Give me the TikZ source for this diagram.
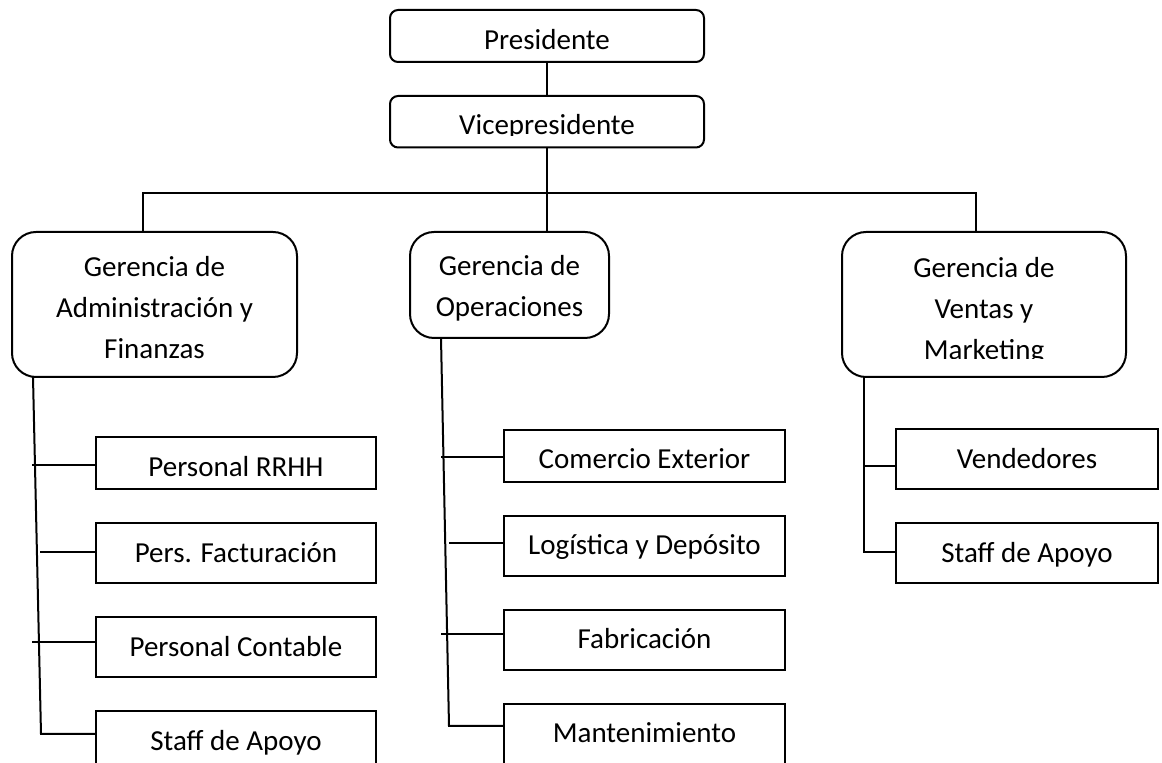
\documentclass[tikz,border=0pt]{standalone}
\usepackage{fontspec}
\setmainfont{Carlito}
\usetikzlibrary{positioning}

\tikzset{
  head/.style={draw, line width=1pt, rounded corners=4pt, minimum width=157pt, inner ysep=0pt},
  gerencia/.style={draw, line width=1pt, rounded corners=12pt},
  puesto/.style={draw, line width=1pt, inner ysep=0pt, text height=19.5pt, text depth=10.5pt},
  corto/.style={text depth=6.5pt},
  rotulo/.style={align=center},
  enlace/.style={line width=1pt},
}

\begin{document}
\begin{tikzpicture}[x=0.5pt, y=-0.5pt, node distance=16pt,
  every node/.style={font=\fontsize{14.5}{20.5}\selectfont}]
\useasboundingbox (0,0) rectangle (1162,763);

% direccion
\node[head, text height=20pt, text depth=6pt](pres) at (547,36){Presidente};
\node[head, text height=19pt, text depth=6.75pt](vice)[below = of pres]{};
\begin{scope}
  \clip (vice.north west) rectangle ([yshift=6.5pt]vice.south east);
  \node[anchor=base](vicetxt) at ([yshift=6.75pt]vice.south){Vicepresidente};
\end{scope}

% gerencias
\node[gerencia, minimum width=142.5pt, minimum height=72.5pt](adm) at (154.5,304.5){};
\node[gerencia, minimum width=99.5pt, minimum height=53pt](ops) at (509.5,285){};
\node[gerencia, minimum width=142pt, minimum height=72.5pt](vent) at (984,304.5){};
\node[rotulo](admtxt) at ([yshift=-1.75pt]adm.center){Gerencia de\\Administración y\\Finanzas};
\node[rotulo](opstxt) at ([yshift=-1.75pt]ops.center){Gerencia de\\Operaciones};
\begin{scope}
  \clip (vent.north west) rectangle ([yshift=9.5pt]vent.south east);
  \node[rotulo](venttxt) at ([yshift=-3pt]vent.center){Gerencia de\\Ventas y\\Marketing};
\end{scope}

% administracion y finanzas
\node[puesto, corto, minimum width=140pt](rrhh) at (236,463.5){Personal RRHH};
\node[puesto, minimum width=140pt](fact)[below = of rrhh]{Pers. Facturación};
\node[puesto, minimum width=140pt](cont)[below = of fact]{Personal Contable};
\node[puesto, minimum width=140pt](stfA)[below = of cont]{Staff de Apoyo};

% operaciones
\node[puesto, corto, minimum width=140.5pt](com) at (644.5,456){Comercio Exterior};
\node[puesto, minimum width=140.5pt](log)[below = of com]{Logística y Depósito};
\node[puesto, minimum width=140.5pt](fab)[below = of log]{Fabricación};
\node[puesto, minimum width=140.5pt](mant)[below = of fab]{Mantenimiento};

% ventas y marketing
\node[puesto, minimum width=131pt](vend) at (1027,459.5){Vendedores};
\node[puesto, minimum width=131pt](stfV)[below = of vend]{Staff de Apoyo};

\coordinate (busL) at (143,193);
\coordinate (busR) at (976,193);
\coordinate (admTop) at (33,377);
\coordinate (admEnd) at (41,734);
\coordinate (a1) at (32,465);
\coordinate (a2) at (40,552);
\coordinate (a3) at (32,642);
\coordinate (opsTop) at (441,338);
\coordinate (opsEnd) at (449,726);
\coordinate (o1) at (441,457);
\coordinate (o2) at (449,543);
\coordinate (o3) at (441,634);
\coordinate (ventTop) at (864,377);
\coordinate (ventEnd) at (864,552);
\coordinate (v1) at (864,466);

\path[enlace]
(pres) edge (vice)
(vice.south) edge (ops.north -| vice.south)
(a1) edge (a1 -| rrhh.west)
(a2) edge (a2 -| fact.west)
(a3) edge (a3 -| cont.west)
(o1) edge (o1 -| com.west)
(o2) edge (o2 -| log.west)
(o3) edge (o3 -| fab.west)
(v1) edge (v1 -| vend.west);

\draw[enlace] (adm.north -| busL) -- (busL) -- (busR) -- (vent.north -| busR);
\draw[enlace] (admTop) -- (admEnd) -- (admEnd -| stfA.west);
\draw[enlace] (opsTop) -- (opsEnd) -- (opsEnd -| mant.west);
\draw[enlace] (ventTop) -- (ventEnd) -- (ventEnd -| stfV.west);

\end{tikzpicture}
\end{document}
